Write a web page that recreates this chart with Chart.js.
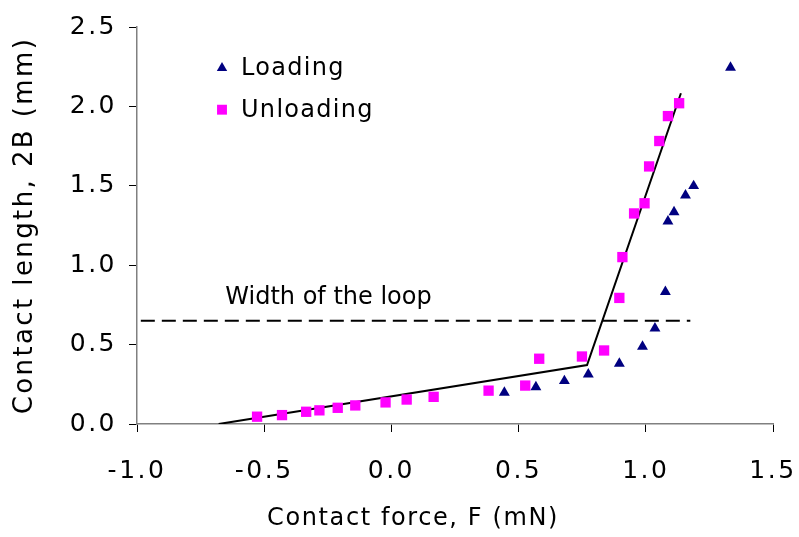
<!DOCTYPE html>
<html>
<head>
<meta charset="utf-8">
<script src="https://cdn.jsdelivr.net/npm/chart.js@4.4.1/dist/chart.umd.min.js"></script>
<style>
  html, body { margin: 0; padding: 0; background: #fff; }
  #wrap { width: 799px; height: 537px; position: relative; }
</style>
</head>
<body>
<div id="wrap"><canvas id="c" width="799" height="537"></canvas></div>
<script>
// ---- data ----
const loadingF = [0.444, 0.568, 0.680, 0.774, 0.896, 0.987, 1.036, 1.077, 1.087, 1.111, 1.156, 1.188, 1.333];
const loadingB = [0.198, 0.233, 0.271, 0.313, 0.380, 0.488, 0.602, 0.832, 1.276, 1.334, 1.440, 1.499, 2.245];

const unloadingF = [-0.528, -0.430, -0.335, -0.283, -0.211, -0.142, -0.023, 0.060, 0.166, 0.382, 0.526, 0.581, 0.749, 0.836, 0.896, 0.908, 0.954, 0.995, 1.013, 1.053, 1.087, 1.131];
const unloadingB = [0.046, 0.056, 0.077, 0.086, 0.102, 0.117, 0.136, 0.154, 0.171, 0.210, 0.242, 0.411, 0.425, 0.463, 0.794, 1.051, 1.326, 1.390, 1.622, 1.782, 1.939, 2.020];

const fitF = [-0.679, 0.769, 1.138];
const fitB = [0.0, 0.371, 2.083];

const loopF = [-0.985, 1.175];
const loopB = [0.65, 0.65];

const xTicks = [-1.0, -0.5, 0.0, 0.5, 1.0, 1.5];
const yTicks = [0.0, 0.5, 1.0, 1.5, 2.0, 2.5];

const seriesNames = ['Loading', 'Unloading'];
const xTitle = 'Contact force, F (mN)';
const yTitle = 'Contact length, 2B (mm)';
const loopLabel = 'Width of the loop';
const loopLabelAt = { x: -0.653, y: 0.757 };

// ---- helpers ----
const pts = (xs, ys) => xs.map((x, i) => ({ x: x, y: ys[i] }));
const FONT = "'DejaVu Sans', Verdana, sans-serif";

function spaceText(scale, labelSp, titleSp, titleShift, labelShift) {
  if (scale._spacedDone) return;
  scale._spacedDone = true;
  const proto = Object.getPrototypeOf(scale);
  scale.drawLabels = function (area) {
    const c = this.ctx; c.save(); c.letterSpacing = labelSp; c.translate(0, labelShift);
    proto.drawLabels.call(this, area); c.restore();
  };
  scale.drawTitle = function (area) {
    const c = this.ctx; c.save(); c.letterSpacing = titleSp; c.translate(titleShift, 0);
    proto.drawTitle.call(this, area); c.restore();
  };
}

const legendAndNotes = {
  id: 'legendAndNotes',
  afterDraw(chart) {
    const ctx = chart.ctx;
    const area = chart.chartArea;
    const xs = chart.scales.x, ys = chart.scales.y;
    ctx.save();
    // legend
    const lx = area.left + 85, ly = area.top + 41, rowH = 41.7;
    chart.data.datasets.forEach((ds, i) => {
      if (!ds.label) return;
      const y = ly + i * rowH;
      ctx.fillStyle = ds.pointBackgroundColor;
      ctx.strokeStyle = ds.pointBorderColor;
      Chart.helpers.drawPoint(ctx, { pointStyle: ds.pointStyle, radius: ds.legendRadius, rotation: 0, borderWidth: 0 }, lx, y);
      ctx.fillStyle = '#000';
      ctx.font = '24px ' + FONT;
      ctx.letterSpacing = '1.3px';
      ctx.textAlign = 'left';
      ctx.textBaseline = 'middle';
      ctx.fillText(ds.label, lx + 19, y + 1);
    });
    // annotation text
    ctx.letterSpacing = '0px';
    ctx.font = '24px ' + FONT;
    ctx.fillStyle = '#000';
    ctx.textAlign = 'left';
    ctx.textBaseline = 'alphabetic';
    ctx.fillText(loopLabel, xs.getPixelForValue(loopLabelAt.x), ys.getPixelForValue(loopLabelAt.y));
    ctx.restore();
  }
};

new Chart(document.getElementById('c'), {
  type: 'scatter',
  data: {
    datasets: [
      {
        label: seriesNames[0],
        data: pts(loadingF, loadingB),
        pointStyle: 'triangle',
        pointRadius: 6.3,
        legendRadius: 6,
        pointBackgroundColor: '#000080',
        pointBorderColor: '#000080',
        pointBorderWidth: 0,
        showLine: false
      },
      {
        label: seriesNames[1],
        data: pts(unloadingF, unloadingB),
        pointStyle: 'rect',
        pointRadius: 7.3,
        legendRadius: 7,
        pointBackgroundColor: '#FF00FF',
        pointBorderColor: '#FF00FF',
        pointBorderWidth: 0,
        showLine: false
      },
      {
        label: '',
        data: pts(fitF, fitB),
        showLine: true,
        borderColor: '#000',
        borderWidth: 2,
        pointRadius: 0,
        fill: false
      },
      {
        label: '',
        data: pts(loopF, loopB),
        showLine: true,
        borderColor: '#000',
        borderWidth: 2,
        borderDash: [14, 7],
        pointRadius: 0,
        fill: false
      }
    ]
  },
  options: {
    responsive: false,
    animation: false,
    devicePixelRatio: 1,
    layout: { padding: { left: 0, top: 24, right: 26, bottom: 0 } },
    plugins: {
      legend: { display: false },
      tooltip: { enabled: false }
    },
    scales: {
      x: {
        type: 'linear',
        min: xTicks[0],
        max: xTicks[xTicks.length - 1],
        afterBuildTicks: (s) => { s.ticks = xTicks.map(v => ({ value: v })); },
        afterFit: (s) => { s.height = 113; spaceText(s, '2.5px', '1.6px', -42, 20); },
        grid: { drawOnChartArea: false, drawTicks: true, tickLength: 8, color: '#000', lineWidth: 1 },
        border: { display: true, color: '#808080', width: 1.5 },
        ticks: {
          color: '#000',
          font: { family: FONT, size: 25 },
          padding: 4,
          maxRotation: 0,
          callback: (v) => Number(v).toFixed(1)
        },
        title: {
          display: true,
          text: xTitle,
          color: '#000',
          font: { family: FONT, size: 24, lineHeight: 1 },
          padding: { top: 0, bottom: 6 }
        }
      },
      y: {
        type: 'linear',
        min: yTicks[0],
        max: yTicks[yTicks.length - 1],
        afterBuildTicks: (s) => { s.ticks = yTicks.map(v => ({ value: v })); },
        afterFit: (s) => { s.width = 137; spaceText(s, '2.5px', '2.4px', 0, 0); },
        grid: { drawOnChartArea: false, drawTicks: true, tickLength: 8, color: '#000', lineWidth: 1 },
        border: { display: true, color: '#808080', width: 1.5 },
        ticks: {
          color: '#000',
          font: { family: FONT, size: 25 },
          padding: 12,
          callback: (v) => Number(v).toFixed(1)
        },
        title: {
          display: true,
          text: yTitle,
          color: '#000',
          font: { family: FONT, size: 26, lineHeight: 1 },
          padding: { top: 12.5, bottom: 0 }
        }
      }
    }
  },
  plugins: [legendAndNotes]
});
</script>
</body>
</html>
